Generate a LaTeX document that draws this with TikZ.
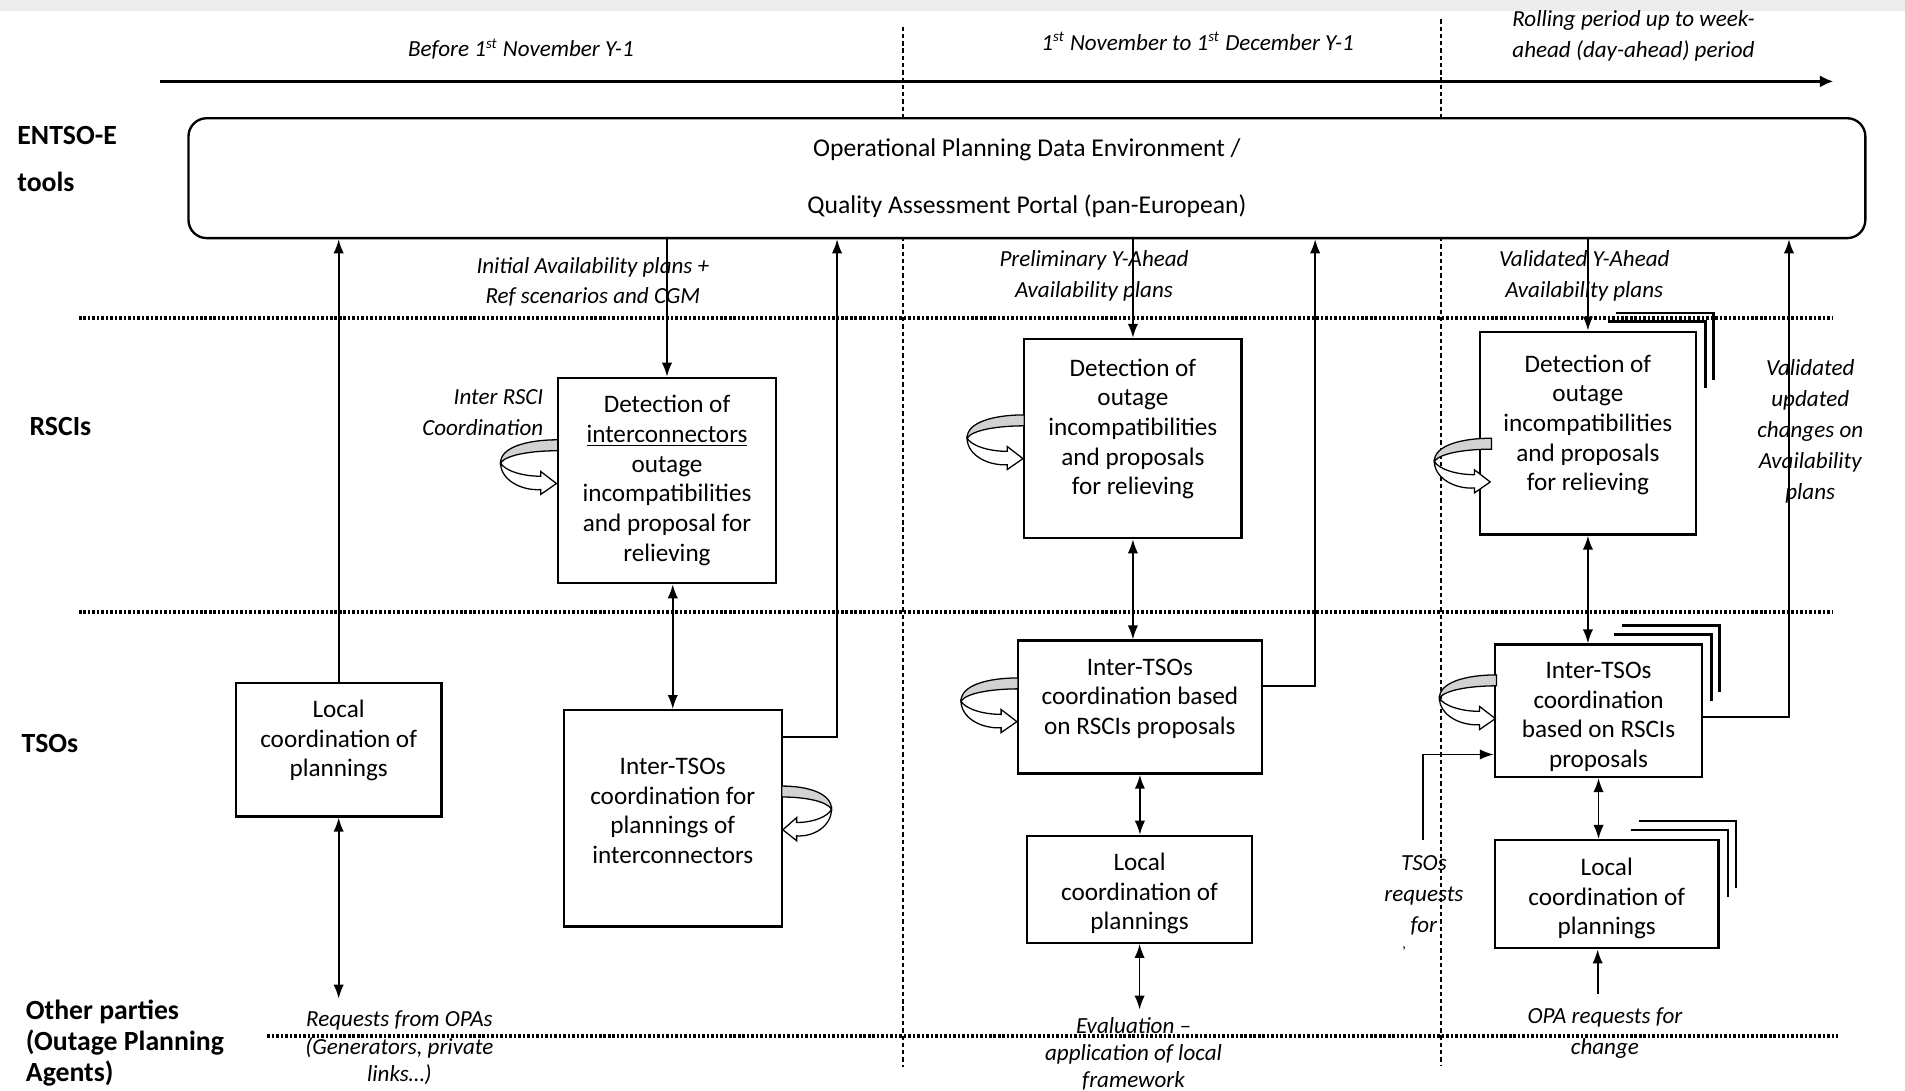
\documentclass[tikz,border=0pt]{standalone}
\usepackage{fontspec}
\setmainfont{Carlito}
\usepackage{tikz}
\usetikzlibrary{arrows.meta}
\newcommand{\lowpad}[1]{\rule[-#1]{0pt}{#1}}
\newcommand{\toppad}[1]{\rule{0pt}{#1}}

\begin{document}
\begin{tikzpicture}[x=0.02cm, y=-0.02cm,
    box/.style={draw, line width=1.1pt, fill=white, align=center, inner sep=0pt,
      font=\fontsize{11.8}{13.9}\selectfont},
    lbl/.style={align=center, inner sep=0pt, font=\fontsize{10.8}{14.5}\selectfont\itshape},
    lanename/.style={anchor=west, align=left, inner sep=0pt, font=\fontsize{13}{14.6}\selectfont\bfseries},
    lane/.style={line width=1.9pt, dash pattern=on 1.2pt off 0.9pt},
    phase/.style={line width=1.1pt, dash pattern=on 2pt off 1.4pt},
    con/.style={line width=0.8pt, -{Latex[length=2.3mm, width=1.7mm]}},
    twoway/.style={line width=0.8pt, {Latex[length=2.3mm, width=1.7mm]}-{Latex[length=2.3mm, width=1.7mm]}},
    copyline/.style={line width=1.1pt},
    loopback/.pic={
      \filldraw[fill=gray!35, line width=0.6pt] (0,0) .. controls (-25,0) and (-47,6) .. (-47,19)
        .. controls (-42,12) and (-20,9) .. (0,9) -- cycle;
      \filldraw[fill=white, line width=0.6pt] (-47,19) .. controls (-47,33) and (-30,42) .. (-14,41)
        -- (-14,45) -- (-1,36) -- (-14,26) -- (-14,30) .. controls (-30,30) and (-44,25) .. (-47,19) -- cycle;
    }]
  \useasboundingbox (0,0) rectangle (1568,898);
  \fill[gray!15] (0,0) rectangle (1568,9);

  \draw[phase] (743,22) -- (743,878);
  \draw[phase] (1186,16) -- (1186,877);
  \draw[lane] (65,262) -- (1508,262);
  \draw[lane] (65,504) -- (1508,504);
  \draw[lane] (220,852.5) -- (1513,852.5);

  \draw[line width=1.4pt, -{Latex[length=2.2mm, width=2mm]}] (131.5,67) -- (1509,67);
  \node[lbl] (perA) at (428.75,40.5) {Before 1\textsuperscript{\scriptsize st} November Y-1};
  \node[lbl] (perB) at (985.75,34) {1\textsuperscript{\scriptsize st} November to 1\textsuperscript{\scriptsize st} December Y-1};
  \node[lbl, anchor=west, align=left] (perC) at (1244.5,29.75) {Rolling period up to week-\\ahead (day-ahead) period};

  \node[lanename, font=\fontsize{13}{21.9}\selectfont\bfseries] (laneE) at (14,130.75) {ENTSO-E\\tools};
  \node[lanename] (laneR) at (24,351) {RSCIs};
  \node[lanename] (laneT) at (17.5,612) {TSOs};
  \node[lanename] (laneO) at (21,858.4) {Other parties\\(Outage Planning\\Agents)};

  \node[box, rounded corners=0.3cm, minimum width=27.61cm, minimum height=1.974cm,
    font=\fontsize{12}{14}\selectfont] (ope) at (845.25,146.65)
    {Operational Planning Data Environment /\\[12.7pt]Quality Assessment Portal (pan-European)};

  \node[box, minimum width=3.39cm, minimum height=2.2cm] (locA) at (278.75,617)
    {Local\\coordination of\\plannings\lowpad{10.4pt}};
  \node[box, minimum width=3.6cm, minimum height=3.38cm] (detA) at (549,395.5)
    {Detection of\\\underline{interconnectors}\\outage\\incompatibilities\\and proposal for\\relieving};
  \node[box, minimum width=3.59cm, minimum height=3.56cm] (intA) at (553.75,673.5)
    {Inter-TSOs\\coordination for\\plannings of\\interconnectors\lowpad{7pt}};

  \node[box, minimum width=3.58cm, minimum height=3.28cm] (detB) at (932.5,361)
    {Detection of\\outage\\incompatibilities\\and proposals\\for relieving\lowpad{11pt}};
  \node[box, minimum width=4.01cm, minimum height=2.19cm] (intB) at (938.25,582)
    {Inter-TSOs\\coordination based\\on RSCIs proposals\lowpad{9.8pt}};
  \node[box, minimum width=3.7cm, minimum height=1.76cm] (locB) at (938,732)
    {\toppad{12.3pt}Local\\coordination of\\plannings};

  \node[box, minimum width=3.56cm, minimum height=3.34cm] (detC) at (1307,356.5)
    {Detection of\\outage\\incompatibilities\\and proposals\\for relieving\lowpad{9.8pt}};
  \node[box, minimum width=3.41cm, minimum height=2.18cm] (intC) at (1315.75,585)
    {\toppad{13.3pt}Inter-TSOs\\coordination\\based on RSCIs\\proposals};
  \node[box, minimum width=3.68cm, minimum height=1.78cm] (locC) at (1322.5,736)
    {\toppad{12.3pt}Local\\coordination of\\plannings};

  \foreach \n in {detC,intC,locC}
    \foreach \k in {1,2}
      \draw[copyline] ([shift={({\k*6.7-80},{-\k*7.3})}]\n.north east) -- ++(80,0) -- ++(0,55);

  \coordinate (kA) at (689,606.4);
  \coordinate (kB) at (1082.5,564.8);
  \coordinate (kC) at (1472.5,590);
  \coordinate (opaA) at (277.5,822);
  \coordinate (evalB) at (938,831);
  \coordinate (opaC) at (1315,818);
  \coordinate (tsoreq) at (1171,691);
  \coordinate (tsobend) at (1171,621);

  \draw[con] (locA.north) -- (locA.north |- ope.south);
  \draw[twoway] (locA.south) -- (locA.south |- opaA);
  \draw[con] (ope.south -| detA.north) -- (detA.north);
  \draw[twoway] (intA.north) -- (intA.north |- detA.south);
  \draw[con] (intA.east |- kA) -- (kA) -- (kA |- ope.south);

  \draw[con] (ope.south -| detB.north) -- (detB.north);
  \draw[twoway] (detB.south) -- (detB.south |- intB.north);
  \draw[con] (intB.east |- kB) -- (kB) -- (kB |- ope.south);
  \draw[twoway] (intB.south) -- (intB.south |- locB.north);
  \draw[twoway] (locB.south) -- (locB.south |- evalB);

  \draw[con] (ope.south -| detC.north) -- (detC.north);
  \draw[twoway] (detC.south) -- (detC.south |- intC.north);
  \draw[con] (intC.east |- kC) -- (kC) -- (kC |- ope.south);
  \draw[twoway] (intC.south) -- (intC.south |- locC.north);
  \draw[con] (opaC) -- (opaC |- locC.south);
  \draw[con] (tsoreq) -- (tsobend) -- (tsobend -| intC.west);

  \pic at (459,362) {loopback};
  \pic at (843,341.5) {loopback};
  \pic at (1227.6,360.7) {loopback};
  \pic at (838,558) {loopback};
  \pic at (1231.8,555.5) {loopback};
  \pic[xscale=-0.87] at (643.5,647) {loopback};

  \node[lbl] (lblInit) at (488,232) {Initial Availability plans +\\Ref scenarios and CGM};
  \node[lbl, anchor=east, align=right] (lblRsci) at (447.5,340) {Inter RSCI\\Coordination};
  \node[lbl, font=\fontsize{10.8}{12.8}\selectfont\itshape] (lblOpaA) at (328.75,862.5)
    {Requests from OPAs\\(Generators, private\\links…)};
  \node[lbl] (lblPrel) at (900.5,227) {Preliminary Y-Ahead\\Availability plans};
  \node[lbl, font=\fontsize{10.8}{12.6}\selectfont\itshape] (lblEval) at (933,867.5)
    {Evaluation –\\application of local\\framework};
  \node[lbl] (lblVal) at (1304,227) {Validated Y-Ahead\\Availability plans};
  \node[lbl] (lblUpd) at (1490,355) {Validated\\updated\\changes on\\Availability\\plans};
  \node[lbl] (lblTso) at (1172,737) {TSOs\\requests\\for};
  \node[lbl, font=\fontsize{7}{8}\selectfont\itshape] (tick) at (1156,781) {,};
  \node[lbl] (lblOpaC) at (1321,850) {OPA requests for\\change};
\end{tikzpicture}
\end{document}
